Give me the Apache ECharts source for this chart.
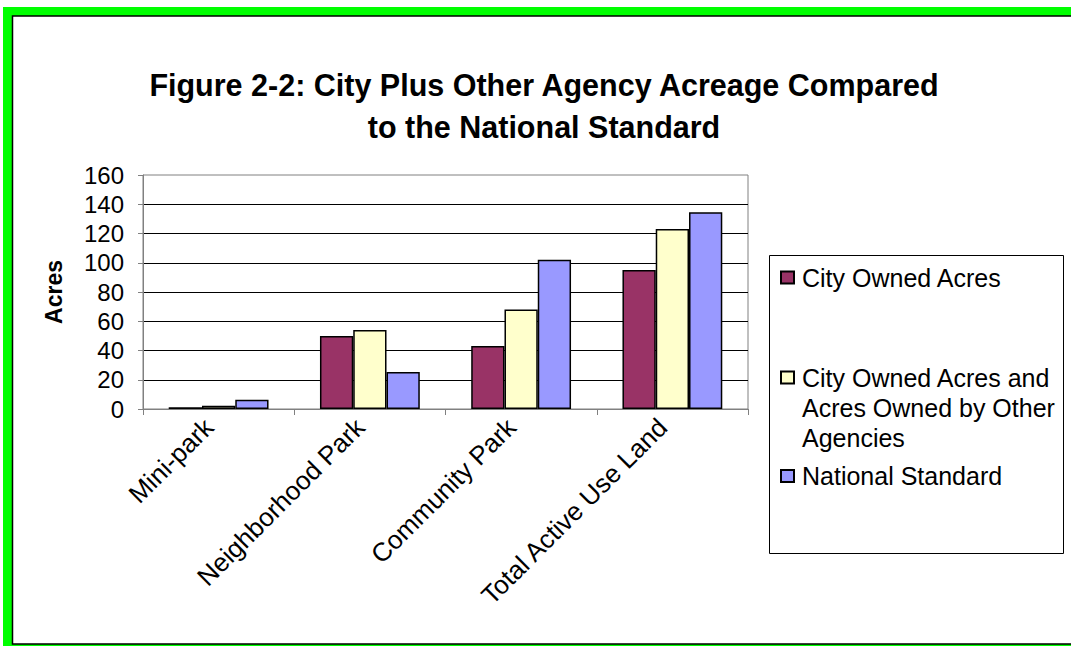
<!DOCTYPE html>
<html>
<head>
<meta charset="utf-8">
<script src="https://cdn.jsdelivr.net/npm/echarts@6/dist/echarts.min.js"></script>
<style>
html,body{margin:0;padding:0;background:#fff;}
#chart{width:1071px;height:646px;}
</style>
</head>
<body>
<div id="chart"></div>
<script>
const categories = ['Mini-park', 'Neighborhood Park', 'Community Park', 'Total Active Use Land'];
const cityOwned = [1.2, 50, 43, 95];
const cityAndOther = [2.3, 54, 68, 123];
const nationalStandard = [6.3, 25.3, 102, 134.5];
const seriesNames = ['City Owned Acres', 'City Owned Acres and Acres Owned by Other Agencies', 'National Standard'];
const yTicks = { min: 0, max: 160, interval: 20 };

const FONT = '"Liberation Sans", Arial, sans-serif';
const chart = echarts.init(document.getElementById('chart'), null, { renderer: 'svg' });

function bar(name, data, color) {
  return {
    name: name, type: 'bar', data: data,
    barGap: '0%', barCategoryGap: '34%',
    itemStyle: { color: color, borderColor: '#000', borderWidth: 1.5 }
  };
}

const legendBase = {
  orient: 'vertical', left: 780, padding: 0,
  itemWidth: 13, itemHeight: 12, icon: 'rect',
  selectedMode: false
};
const legendText = { fontFamily: FONT, fontSize: 25, lineHeight: 30, color: '#000', padding: [0, 0, 0, 3] };

chart.setOption({
  animation: false,
  textStyle: { fontFamily: FONT },
  title: {
    text: 'Figure 2-2: City Plus Other Agency Acreage Compared\nto the National Standard',
    left: 544, top: 64, textAlign: 'center', padding: 0,
    textStyle: { fontFamily: FONT, fontWeight: 'bold', fontSize: 30.5, lineHeight: 42, color: '#000' }
  },
  graphic: [
    { type: 'rect', z: -100, silent: true, shape: { x: 3, y: 7, width: 1100, height: 700 }, style: { fill: '#00ff00' } },
    { type: 'rect', z: -99, silent: true, shape: { x: 12.5, y: 16, width: 1100, height: 628 }, style: { fill: '#fff', stroke: '#000', lineWidth: 1.5 } },
    { type: 'rect', z: -98, silent: true, shape: { x: 769.5, y: 255.5, width: 294, height: 298 }, style: { fill: '#fff', stroke: '#000', lineWidth: 1 } }
  ],
  legend: [
    Object.assign({}, legendBase, { top: 262.5, data: [seriesNames[0]], textStyle: legendText }),
    Object.assign({}, legendBase, { top: 302.5, data: [seriesNames[1]],
      formatter: function () { return '\n\nCity Owned Acres and\nAcres Owned by Other\nAgencies'; },
      textStyle: legendText }),
    Object.assign({}, legendBase, { top: 461, data: [seriesNames[2]], textStyle: legendText })
  ],
  grid: {
    left: 143, right: 323, top: 175, bottom: 237,
    show: true, borderColor: '#808080', borderWidth: 1, backgroundColor: 'transparent'
  },
  xAxis: {
    type: 'category', data: categories,
    axisLine: { lineStyle: { color: '#808080', width: 1 } },
    axisTick: { show: true, length: 6, alignWithLabel: false, lineStyle: { color: '#808080' } },
    axisLabel: { rotate: 45, fontSize: 26, color: '#000', fontFamily: FONT, margin: 4, padding: [0, 14, 0, 0], interval: 0 }
  },
  yAxis: {
    type: 'value', min: yTicks.min, max: yTicks.max, interval: yTicks.interval,
    name: 'Acres', nameLocation: 'middle', nameRotate: 90, nameGap: 78,
    nameTextStyle: { fontFamily: FONT, fontWeight: 'bold', fontSize: 23, color: '#000' },
    axisLine: { show: true, lineStyle: { color: '#808080', width: 1 } },
    axisTick: { show: true, inside: false, length: 5, lineStyle: { color: '#808080' } },
    axisLabel: { fontSize: 24, color: '#000', fontFamily: FONT, margin: 19 },
    splitLine: { show: true, showMinLine: false, showMaxLine: false, lineStyle: { color: '#000', width: 1 } }
  },
  series: [
    bar(seriesNames[0], cityOwned, '#993366'),
    bar(seriesNames[1], cityAndOther, '#ffffcc'),
    bar(seriesNames[2], nationalStandard, '#9999ff')
  ]
});
</script>
</body>
</html>
